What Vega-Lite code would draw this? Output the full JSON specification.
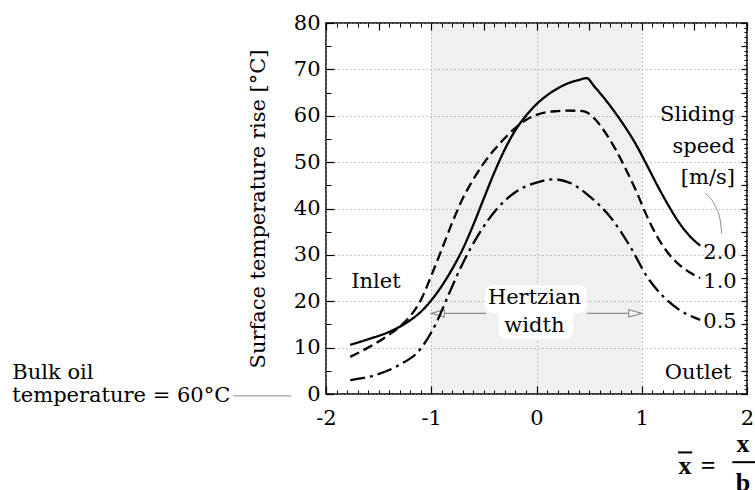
{
  "$schema": "https://vega.github.io/schema/vega-lite/v6.json",
  "autosize": {"type": "none"},
  "padding": {"left": 326, "top": 23, "right": 8, "bottom": 96},
  "width": 421,
  "height": 371,
  "config": {
    "font": "DejaVu Serif",
    "view": {"stroke": "black", "strokeWidth": 1.5},
    "axis": {"labelColor": "black", "titleColor": "black", "labelFont": "DejaVu Serif", "titleFont": "DejaVu Serif"}
  },
  "datasets": {
    "curves": [
      {"speed": "2.0", "x": -1.77, "y": 10.6}, {"speed": "2.0", "x": -1.6, "y": 11.8}, {"speed": "2.0", "x": -1.4, "y": 13.4},
      {"speed": "2.0", "x": -1.2, "y": 15.9}, {"speed": "2.0", "x": -1.1, "y": 17.7}, {"speed": "2.0", "x": -1.0, "y": 20.2},
      {"speed": "2.0", "x": -0.9, "y": 23.3}, {"speed": "2.0", "x": -0.8, "y": 27.0}, {"speed": "2.0", "x": -0.7, "y": 31.3},
      {"speed": "2.0", "x": -0.6, "y": 36.5}, {"speed": "2.0", "x": -0.5, "y": 42.2}, {"speed": "2.0", "x": -0.4, "y": 47.8},
      {"speed": "2.0", "x": -0.3, "y": 52.8}, {"speed": "2.0", "x": -0.2, "y": 56.9}, {"speed": "2.0", "x": -0.1, "y": 60.0},
      {"speed": "2.0", "x": 0.0, "y": 62.5}, {"speed": "2.0", "x": 0.1, "y": 64.4}, {"speed": "2.0", "x": 0.2, "y": 65.9},
      {"speed": "2.0", "x": 0.3, "y": 67.0}, {"speed": "2.0", "x": 0.4, "y": 67.7}, {"speed": "2.0", "x": 0.477, "y": 68.1},
      {"speed": "2.0", "x": 0.55, "y": 66.3}, {"speed": "2.0", "x": 0.65, "y": 63.6}, {"speed": "2.0", "x": 0.75, "y": 60.6},
      {"speed": "2.0", "x": 0.85, "y": 57.3}, {"speed": "2.0", "x": 0.95, "y": 53.6}, {"speed": "2.0", "x": 1.05, "y": 49.3},
      {"speed": "2.0", "x": 1.15, "y": 44.9}, {"speed": "2.0", "x": 1.25, "y": 40.8}, {"speed": "2.0", "x": 1.35, "y": 37.1},
      {"speed": "2.0", "x": 1.45, "y": 34.2}, {"speed": "2.0", "x": 1.555, "y": 32.0},
      {"speed": "1.0", "x": -1.77, "y": 8.0}, {"speed": "1.0", "x": -1.6, "y": 10.0}, {"speed": "1.0", "x": -1.4, "y": 12.8},
      {"speed": "1.0", "x": -1.3, "y": 14.5}, {"speed": "1.0", "x": -1.2, "y": 16.8}, {"speed": "1.0", "x": -1.1, "y": 20.2},
      {"speed": "1.0", "x": -1.0, "y": 25.5}, {"speed": "1.0", "x": -0.9, "y": 31.2}, {"speed": "1.0", "x": -0.8, "y": 37.0},
      {"speed": "1.0", "x": -0.7, "y": 42.2}, {"speed": "1.0", "x": -0.6, "y": 46.3}, {"speed": "1.0", "x": -0.5, "y": 49.8},
      {"speed": "1.0", "x": -0.4, "y": 52.7}, {"speed": "1.0", "x": -0.3, "y": 55.2}, {"speed": "1.0", "x": -0.2, "y": 57.4},
      {"speed": "1.0", "x": -0.1, "y": 59.1}, {"speed": "1.0", "x": 0.0, "y": 60.2}, {"speed": "1.0", "x": 0.1, "y": 60.8},
      {"speed": "1.0", "x": 0.2, "y": 61.0}, {"speed": "1.0", "x": 0.3, "y": 61.1}, {"speed": "1.0", "x": 0.4, "y": 61.05},
      {"speed": "1.0", "x": 0.46, "y": 60.9}, {"speed": "1.0", "x": 0.55, "y": 59.4}, {"speed": "1.0", "x": 0.65, "y": 56.5},
      {"speed": "1.0", "x": 0.75, "y": 52.8}, {"speed": "1.0", "x": 0.85, "y": 48.4}, {"speed": "1.0", "x": 0.95, "y": 43.6},
      {"speed": "1.0", "x": 1.05, "y": 38.3}, {"speed": "1.0", "x": 1.15, "y": 33.8}, {"speed": "1.0", "x": 1.25, "y": 30.4},
      {"speed": "1.0", "x": 1.35, "y": 28.0}, {"speed": "1.0", "x": 1.45, "y": 26.3}, {"speed": "1.0", "x": 1.555, "y": 25.0},
      {"speed": "0.5", "x": -1.77, "y": 3.0}, {"speed": "0.5", "x": -1.53, "y": 4.1}, {"speed": "0.5", "x": -1.3, "y": 6.3},
      {"speed": "0.5", "x": -1.11, "y": 9.5}, {"speed": "0.5", "x": -0.955, "y": 15.2}, {"speed": "0.5", "x": -0.83, "y": 21.7},
      {"speed": "0.5", "x": -0.7, "y": 28.2}, {"speed": "0.5", "x": -0.545, "y": 34.6}, {"speed": "0.5", "x": -0.385, "y": 39.7},
      {"speed": "0.5", "x": -0.195, "y": 43.6}, {"speed": "0.5", "x": 0.0, "y": 45.6}, {"speed": "0.5", "x": 0.16, "y": 46.3},
      {"speed": "0.5", "x": 0.32, "y": 45.5}, {"speed": "0.5", "x": 0.51, "y": 42.5}, {"speed": "0.5", "x": 0.7, "y": 38.2},
      {"speed": "0.5", "x": 0.89, "y": 31.8}, {"speed": "0.5", "x": 1.05, "y": 25.3}, {"speed": "0.5", "x": 1.205, "y": 21.0},
      {"speed": "0.5", "x": 1.36, "y": 18.1}, {"speed": "0.5", "x": 1.555, "y": 16.0}
    ],
    "shade": [{"x": -1, "x2": 1}],
    "blob": [{"x": -0.49, "x2": 0.48, "y": 23.4, "y2": 17.4}, {"x": -0.36, "x2": 0.35, "y": 18.4, "y2": 11.8}],
    "arrows": [{"x": -0.94, "x2": -0.48, "y": 17.4}, {"x": 0.48, "x2": 0.94, "y": 17.4}],
    "heads": [{"x": -0.938, "y": 17.4, "dir": "left"}, {"x": 0.938, "y": 17.4, "dir": "right"}],
    "connector": [{"x": 1.6, "y": 43.3}, {"x": 1.7, "y": 40.4}, {"x": 1.745, "y": 37.5}, {"x": 1.76, "y": 34.6}],
    "bulkline": [{"x": -2.88, "x2": -2.33, "y": -0.4}],
    "fraclines": [{"x": 1.86, "x2": 2.08, "y": -14.7}, {"x": 1.345, "x2": 1.48, "y": -12.6}],
    "textLeft": [
      {"x": -1.76, "y": 24.2, "text": "Inlet"},
      {"x": 1.585, "y": 30.3, "text": "2.0"},
      {"x": 1.585, "y": 24.2, "text": "1.0"},
      {"x": 1.585, "y": 15.6, "text": "0.5"},
      {"x": -4.98, "y": 4.5, "text": "Bulk oil"},
      {"x": -4.98, "y": -0.4, "text": "temperature = 60°C"}
    ],
    "textRight": [
      {"x": 1.886, "y": 60.2, "text": "Sliding"},
      {"x": 1.886, "y": 53.3, "text": "speed"},
      {"x": 1.886, "y": 46.6, "text": "[m/s]"},
      {"x": 1.853, "y": 4.5, "text": "Outlet"}
    ],
    "textCenter": [
      {"x": -0.02, "y": 20.7, "text": "Hertzian"},
      {"x": -0.02, "y": 14.6, "text": "width"}
    ],
    "formula": [
      {"x": 1.411, "y": -15.5, "text": "x"},
      {"x": 1.63, "y": -15.5, "text": "="},
      {"x": 1.962, "y": -10.8, "text": "x"},
      {"x": 1.962, "y": -19.2, "text": "b"}
    ]
  },
  "resolve": {"axis": {"x": "independent", "y": "independent"}},
  "layer": [
    {
      "data": {"name": "shade"},
      "mark": {"type": "rect", "fill": "black", "opacity": 0.06},
      "encoding": {
        "x": {"field": "x", "type": "quantitative", "scale": {"domain": [-2, 2], "nice": false, "zero": false},
          "axis": {"orient": "bottom", "title": null, "ticks": false, "domain": false, "grid": true, "gridColor": "#999", "gridDash": [1, 3], "gridWidth": 1, "values": [-2, -1, 0, 1, 2], "labelFontSize": 21, "labelPadding": 13, "labelFlush": false, "labelExpr": "datum.value"}},
        "x2": {"field": "x2"}
      }
    },
    {
      "data": {"name": "curves"},
      "mark": {"type": "point", "opacity": 0},
      "encoding": {
        "x": {"field": "x", "type": "quantitative", "scale": {"domain": [-2, 2], "nice": false, "zero": false},
          "axis": {"orient": "bottom", "title": null, "labels": false, "domain": false, "grid": false, "tickCount": 40, "tickSize": -4, "tickColor": "black", "tickWidth": 1, "zindex": 1}},
        "y": {"field": "y", "type": "quantitative", "scale": {"domain": [0, 80], "nice": false, "zero": false},
          "axis": {"orient": "left", "title": null, "labels": false, "domain": false, "grid": false, "tickCount": 16, "tickSize": -5, "tickColor": "black", "tickWidth": 1, "zindex": 1}}
      }
    },
    {
      "data": {"name": "curves"},
      "mark": {"type": "point", "opacity": 0},
      "encoding": {
        "x": {"field": "x", "type": "quantitative", "scale": {"domain": [-2, 2], "nice": false, "zero": false},
          "axis": {"orient": "top", "title": null, "labels": false, "domain": false, "grid": false, "tickCount": 40, "tickSize": -4, "tickColor": "black", "tickWidth": 1, "zindex": 1}},
        "y": {"field": "y", "type": "quantitative", "scale": {"domain": [0, 80], "nice": false, "zero": false},
          "axis": {"orient": "right", "title": null, "labels": false, "domain": false, "grid": false, "tickCount": 80, "tickSize": -3, "tickColor": "black", "tickWidth": 1, "zindex": 1}}
      }
    },
    {
      "data": {"name": "curves"},
      "mark": {"type": "point", "opacity": 0},
      "encoding": {
        "x": {"field": "x", "type": "quantitative", "scale": {"domain": [-2, 2], "nice": false, "zero": false},
          "axis": {"orient": "bottom", "title": null, "labels": false, "domain": false, "grid": false, "tickCount": 4, "tickSize": -8, "tickColor": "black", "tickWidth": 1.2, "zindex": 1}},
        "y": {"field": "y", "type": "quantitative", "scale": {"domain": [0, 80], "nice": false, "zero": false},
          "axis": {"orient": "left", "title": null, "labels": false, "domain": false, "grid": false, "tickCount": 8, "tickSize": -8, "tickColor": "black", "tickWidth": 1.2, "zindex": 1}}
      }
    },
    {
      "data": {"name": "curves"},
      "mark": {"type": "point", "opacity": 0},
      "encoding": {
        "x": {"field": "x", "type": "quantitative", "scale": {"domain": [-2, 2], "nice": false, "zero": false},
          "axis": {"orient": "top", "title": null, "labels": false, "domain": false, "grid": false, "tickCount": 8, "tickSize": -7, "tickColor": "black", "tickWidth": 1.2, "zindex": 1}},
        "y": {"field": "y", "type": "quantitative", "scale": {"domain": [0, 80], "nice": false, "zero": false},
          "axis": {"orient": "right", "title": null, "labels": false, "domain": false, "grid": false, "tickCount": 16, "tickSize": -6, "tickColor": "black", "tickWidth": 1.2, "zindex": 1}}
      }
    },
    {
      "data": {"name": "blob"},
      "mark": {"type": "rect", "fill": "white", "cornerRadius": 8},
      "encoding": {
        "x": {"field": "x", "type": "quantitative", "scale": {"domain": [-2, 2], "nice": false, "zero": false}, "axis": null},
        "x2": {"field": "x2"},
        "y": {"field": "y", "type": "quantitative", "scale": {"domain": [0, 80], "nice": false, "zero": false}, "axis": null},
        "y2": {"field": "y2"}
      }
    },
    {
      "data": {"name": "arrows"},
      "mark": {"type": "rule", "color": "#8c8c8c", "strokeWidth": 1.3},
      "encoding": {
        "x": {"field": "x", "type": "quantitative", "scale": {"domain": [-2, 2], "nice": false, "zero": false}, "axis": null},
        "x2": {"field": "x2"},
        "y": {"field": "y", "type": "quantitative", "scale": {"domain": [0, 80], "nice": false, "zero": false}, "axis": null}
      }
    },
    {
      "data": {"name": "heads"},
      "mark": {"type": "point", "filled": true, "fill": "white", "stroke": "#8c8c8c", "strokeWidth": 1.2, "size": 170, "opacity": 1},
      "encoding": {
        "x": {"field": "x", "type": "quantitative", "scale": {"domain": [-2, 2], "nice": false, "zero": false}, "axis": null},
        "y": {"field": "y", "type": "quantitative", "scale": {"domain": [0, 80], "nice": false, "zero": false}, "axis": null},
        "shape": {"field": "dir", "type": "nominal", "scale": {"domain": ["left", "right"], "range": ["M -1 0 L 1 -0.55 L 1 0.55 Z", "M 1 0 L -1 -0.55 L -1 0.55 Z"]}, "legend": null}
      }
    },
    {
      "data": {"name": "curves"},
      "mark": {"type": "line", "color": "black", "strokeWidth": 2.3, "interpolate": "monotone"},
      "encoding": {
        "x": {"field": "x", "type": "quantitative", "scale": {"domain": [-2, 2], "nice": false, "zero": false}, "axis": null},
        "y": {"field": "y", "type": "quantitative", "scale": {"domain": [0, 80], "nice": false, "zero": false},
          "axis": {"orient": "left", "title": "Surface temperature rise [°C]", "titleFontSize": 21, "titleFontWeight": "normal", "titlePadding": 25, "ticks": false, "domain": false, "grid": true, "gridColor": "#999", "gridDash": [1, 3], "gridWidth": 1, "values": [0, 10, 20, 30, 40, 50, 60, 70, 80], "labelFontSize": 21, "labelPadding": 6, "labelFlush": false}},
        "strokeDash": {"field": "speed", "type": "nominal", "scale": {"domain": ["2.0", "1.0", "0.5"], "range": [[1, 0], [10, 5], [15, 5, 3, 5]]}, "legend": null},
        "detail": {"field": "speed"}
      }
    },
    {
      "data": {"name": "connector"},
      "mark": {"type": "line", "color": "#8c8c8c", "strokeWidth": 1, "interpolate": "monotone"},
      "encoding": {
        "x": {"field": "x", "type": "quantitative", "scale": {"domain": [-2, 2], "nice": false, "zero": false}, "axis": null},
        "y": {"field": "y", "type": "quantitative", "scale": {"domain": [0, 80], "nice": false, "zero": false}, "axis": null},
        "order": {"field": "y", "sort": "descending"}
      }
    },
    {
      "data": {"name": "bulkline"},
      "mark": {"type": "rule", "color": "#8c8c8c", "strokeWidth": 1},
      "encoding": {
        "x": {"field": "x", "type": "quantitative", "scale": {"domain": [-2, 2], "nice": false, "zero": false}, "axis": null},
        "x2": {"field": "x2"},
        "y": {"field": "y", "type": "quantitative", "scale": {"domain": [0, 80], "nice": false, "zero": false}, "axis": null}
      }
    },
    {
      "data": {"name": "fraclines"},
      "mark": {"type": "rule", "color": "black", "strokeWidth": 2},
      "encoding": {
        "x": {"field": "x", "type": "quantitative", "scale": {"domain": [-2, 2], "nice": false, "zero": false}, "axis": null},
        "x2": {"field": "x2"},
        "y": {"field": "y", "type": "quantitative", "scale": {"domain": [0, 80], "nice": false, "zero": false}, "axis": null}
      }
    },
    {
      "data": {"name": "textLeft"},
      "mark": {"type": "text", "align": "left", "baseline": "middle", "fontSize": 21, "font": "DejaVu Serif", "color": "black"},
      "encoding": {
        "x": {"field": "x", "type": "quantitative", "scale": {"domain": [-2, 2], "nice": false, "zero": false}, "axis": null},
        "y": {"field": "y", "type": "quantitative", "scale": {"domain": [0, 80], "nice": false, "zero": false}, "axis": null},
        "text": {"field": "text"}
      }
    },
    {
      "data": {"name": "textRight"},
      "mark": {"type": "text", "align": "right", "baseline": "middle", "fontSize": 21, "font": "DejaVu Serif", "color": "black"},
      "encoding": {
        "x": {"field": "x", "type": "quantitative", "scale": {"domain": [-2, 2], "nice": false, "zero": false}, "axis": null},
        "y": {"field": "y", "type": "quantitative", "scale": {"domain": [0, 80], "nice": false, "zero": false}, "axis": null},
        "text": {"field": "text"}
      }
    },
    {
      "data": {"name": "textCenter"},
      "mark": {"type": "text", "align": "center", "baseline": "middle", "fontSize": 21, "font": "DejaVu Serif", "color": "black"},
      "encoding": {
        "x": {"field": "x", "type": "quantitative", "scale": {"domain": [-2, 2], "nice": false, "zero": false}, "axis": null},
        "y": {"field": "y", "type": "quantitative", "scale": {"domain": [0, 80], "nice": false, "zero": false}, "axis": null},
        "text": {"field": "text"}
      }
    },
    {
      "data": {"name": "formula"},
      "mark": {"type": "text", "align": "center", "baseline": "middle", "fontSize": 26, "fontWeight": "bold", "font": "Liberation Serif", "color": "black"},
      "encoding": {
        "x": {"field": "x", "type": "quantitative", "scale": {"domain": [-2, 2], "nice": false, "zero": false}, "axis": null},
        "y": {"field": "y", "type": "quantitative", "scale": {"domain": [0, 80], "nice": false, "zero": false}, "axis": null},
        "text": {"field": "text"}
      }
    }
  ]
}
